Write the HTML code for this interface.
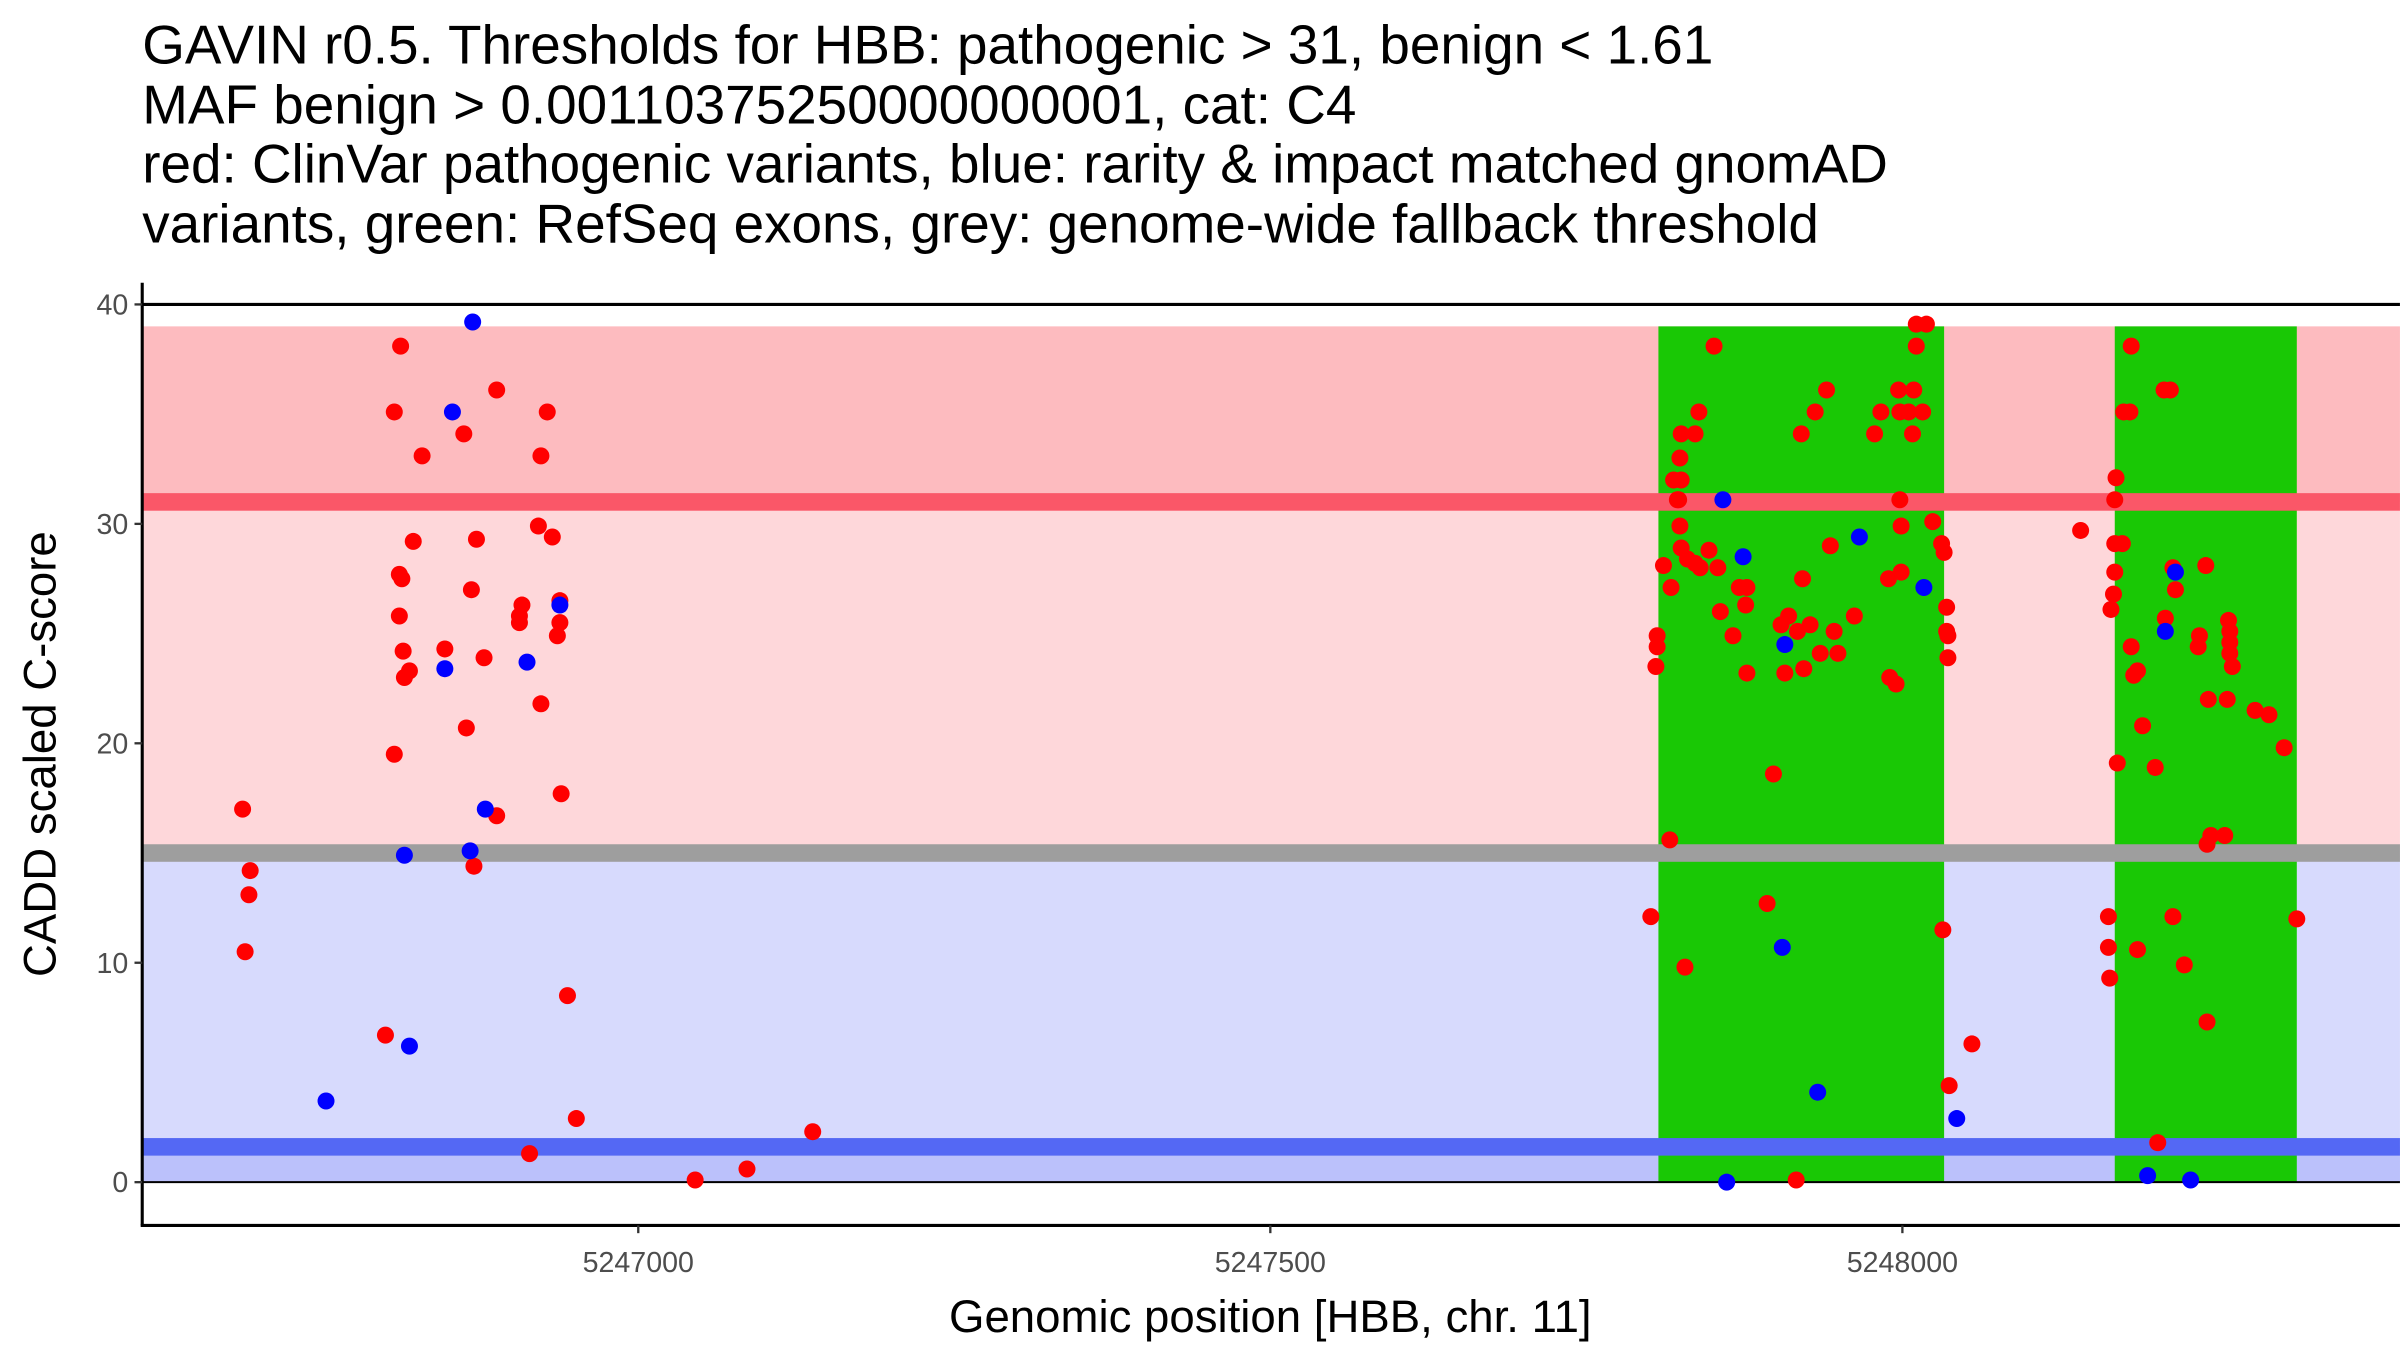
<!DOCTYPE html>
<html><head><meta charset="utf-8"><style>
html,body{margin:0;padding:0;background:#fff;}
svg{display:block;font-family:"Liberation Sans",Arial,sans-serif;}
</style></head><body>
<svg id="chart" width="2400" height="1350" viewBox="0 0 1553 873.6" xmlns="http://www.w3.org/2000/svg">
<g font-size="35.5" fill="#000">
<text x="92" y="41">GAVIN r0.5. Thresholds for HBB: pathogenic &gt; 31, benign &lt; 1.61</text>
<text x="92" y="80">MAF benign &gt; 0.00110375250000000001, cat: C4</text>
<text x="92" y="118">red: ClinVar pathogenic variants, blue: rarity &amp; impact matched gnomAD</text>
<text x="92" y="157">variants, green: RefSeq exons, grey: genome-wide fallback threshold</text>
</g>
<g id="bands"></g>
<g id="exons"></g>
<g id="lines"></g>
<g id="points"></g>
<g id="axes"></g>
<text x="822" y="862" font-size="29.5" text-anchor="middle">Genomic position [HBB, chr. 11]</text>
<text transform="translate(36,488) rotate(-90)" font-size="29.5" text-anchor="middle">CADD scaled C-score</text>
</svg>
<script>
const pathogenicThreshold = 31;
const benignThreshold = 1.61;
const fallbackThreshold = 15;
const maxScore = 39;
const exonStarts = [5247807, 5248168];
const exonEnds = [5248033, 5248312];
const xTicks = [5247000, 5247500, 5248000];
const yTicks = [0, 10, 20, 30, 40];

const redPos = [5246687,5246693,5246692,5246689,5246812,5246807,5246811,5246813,5246811,5246814,5246815,5246819,5246822,5246807,5246829,5246800,
5246862,5246888,5246872,5246868,5246847,5246878,5246864,5246888,5246870,
5246923,5246928,5246921,5246932,5246908,5246906,5246906,5246938,5246938,5246936,5246923,5246939,5246944,5246951,5246914,
5247045,5247086,5247138,
5247801,5247806,5247806,5247805,5247811,5247816,5247817,5247822,5247819,5247824,5247825,5247824,5247828,5247830,5247836,5247839,5247823,5247825,5247825,5247836,5247840,5247847,5247851,5247854,5247856,5247866,5247871,5247877,5247876,5247877,5247893,5247898,5247904,5247910,5247907,5247916,5247917,5247920,5247921,5247922,5247927,5247931,5247935,5247940,5247943,5247946,5247949,5247962,5247978,5247983,5247989,5247990,5247995,5247997,5247998,5247998,5247999,5247999,5248005,5248008,5248009,5248011,5248011,5248016,5248019,5248024,5248031,5248033,5248035,5248035,5248036,5248036,5248032,5248037,5248055,
5248141,5248164,5248163,5248163,5248165,5248167,5248168,5248168,5248168,5248169,5248170,5248174,5248175,5248180,5248181,5248181,5248183,5248186,5248186,5248190,5248200,5248202,5248207,5248208,5248212,5248214,5248216,5248214,5248223,5248234,5248235,5248240,5248241,5248241,5248244,5248242,5248255,5248257,5248258,5248259,5248259,5248259,5248261,5248279,5248290,5248302,5248312];
const redScore = [17.0,14.2,13.1,10.5,38.1,35.1,27.7,27.5,25.8,24.2,23.0,23.3,29.2,19.5,33.1,6.7,
34.1,36.1,29.3,27.0,24.3,23.9,20.7,16.7,14.4,
33.1,35.1,29.9,29.4,26.3,25.8,25.5,26.5,25.5,24.9,21.8,17.7,8.5,2.9,1.3,
0.1,0.6,2.3,
12.1,24.9,24.4,23.5,28.1,15.6,27.1,31.1,32.0,33.0,34.1,29.9,9.8,28.4,34.1,35.1,31.1,32.0,28.9,28.2,28.0,28.8,38.1,28.0,26.0,24.9,27.1,27.1,26.3,23.2,12.7,18.6,25.4,25.8,23.2,0.1,25.1,34.1,27.5,23.4,25.4,35.1,24.1,36.1,29.0,25.1,24.1,25.8,34.1,35.1,27.5,23.0,22.7,36.1,35.1,31.1,29.9,27.8,35.1,34.1,36.1,38.1,39.1,35.1,39.1,30.1,29.1,28.7,26.2,25.1,24.9,23.9,11.5,4.4,6.3,
29.7,9.3,10.7,12.1,26.1,26.8,27.8,29.1,31.1,32.1,19.1,29.1,35.1,35.1,38.1,24.4,23.1,23.3,10.6,20.8,18.9,1.8,36.1,25.7,36.1,28.0,27.0,12.1,9.9,24.4,24.9,28.1,7.3,15.4,15.8,22.0,15.8,22.0,25.6,25.1,24.6,24.1,23.5,21.5,21.3,19.8,12.0];
const bluePos = [5246753,5246819,5246815,5246847,5246853,5246869,5246867,5246879,5246912,5246938,
5247861,5247858,5247874,5247907,5247905,5247933,5247966,5248017,5248043,
5248194,5248208,5248216,5248228];
const blueScore = [3.7,6.2,14.9,23.4,35.1,39.2,15.1,17.0,23.7,26.3,
0.0,31.1,28.5,24.5,10.7,4.1,29.4,27.1,2.9,
0.3,25.1,27.8,0.1];

const NS = 'http://www.w3.org/2000/svg';
const L = 92, R = 1553, T = 193, B = 793;
const xMin = 5246607.6, xMax = 5248393.6;
const y0px = 765, pxPerUnit = 14.2;
function xs(v){ return L + (v - xMin) / (xMax - xMin) * (R - L); }
function ys(v){ return y0px - v * pxPerUnit; }
function mk(tag, attrs, parent){
  const e = document.createElementNS(NS, tag);
  for (const k in attrs) e.setAttribute(k, attrs[k]);
  parent.appendChild(e); return e;
}
const bands = document.getElementById('bands');
let e;
e = mk('rect',{x:L,y:ys(maxScore),width:R-L,height:ys(pathogenicThreshold)-ys(maxScore),fill:'#fdbbbf'},bands);


e = mk('rect',{x:L,y:ys(pathogenicThreshold),width:R-L,height:ys(fallbackThreshold)-ys(pathogenicThreshold),fill:'#fed7da'},bands);


e = mk('rect',{x:L,y:ys(fallbackThreshold),width:R-L,height:ys(0)-ys(fallbackThreshold),fill:'#d7dafd'},bands);


e = mk('rect',{x:L,y:ys(benignThreshold),width:R-L,height:ys(0)-ys(benignThreshold),fill:'#bbc1fb'},bands);



const exons = document.getElementById('exons');
for (let i = 0; i < exonStarts.length; i++){
  e = mk('rect',{x:xs(exonStarts[i]),y:ys(maxScore),width:xs(exonEnds[i])-xs(exonStarts[i]),height:ys(0)-ys(maxScore),fill:'#19c805'},exons);
  
  
}
const lines = document.getElementById('lines');
e = mk('rect',{x:L,y:ys(pathogenicThreshold+0.4),width:R-L,height:0.8*pxPerUnit,fill:'#fa5768'},lines);


e = mk('rect',{x:L,y:ys(fallbackThreshold+0.4),width:R-L,height:0.8*pxPerUnit,fill:'#9e9e9e'},lines);


e = mk('rect',{x:L,y:ys(benignThreshold+0.4),width:R-L,height:0.8*pxPerUnit,fill:'#5468f4'},lines);


e = mk('line',{x1:L,x2:R,y1:ys(0),y2:ys(0),stroke:'#000','stroke-width':1.3},lines);


e = mk('line',{x1:L,x2:R,y1:ys(40),y2:ys(40),stroke:'#000','stroke-width':2},lines);



const pts = document.getElementById('points');
for (let i = 0; i < redPos.length; i++){
  e = mk('circle',{cx:xs(redPos[i]),cy:ys(redScore[i]),r:5.5,fill:'#ff0000'},pts);
  
  
}
for (let i = 0; i < bluePos.length; i++){
  e = mk('circle',{cx:xs(bluePos[i]),cy:ys(blueScore[i]),r:5.5,fill:'#0000ff'},pts);
  
  
}
const ax = document.getElementById('axes');
e = mk('line',{x1:L,x2:L,y1:183,y2:B,stroke:'#000','stroke-width':2},ax);


e = mk('line',{x1:L-1,x2:R,y1:B,y2:B,stroke:'#000','stroke-width':2},ax);


yTicks.forEach(v => {
  mk('line',{x1:L-5,x2:L,y1:ys(v),y2:ys(v),stroke:'#333','stroke-width':1.5},ax);
  e = mk('text',{x:L-9,y:ys(v)+6.5,'text-anchor':'end','font-size':18.5,fill:'#4d4d4d'},ax);
  e.textContent = v;
  
  
});
xTicks.forEach(v => {
  mk('line',{x1:xs(v),x2:xs(v),y1:B,y2:B+5,stroke:'#333','stroke-width':1.5},ax);
  e = mk('text',{x:xs(v),y:B+30,'text-anchor':'middle','font-size':18.5,fill:'#4d4d4d'},ax);
  e.textContent = v;
  
  
});
</script>
</body></html>
